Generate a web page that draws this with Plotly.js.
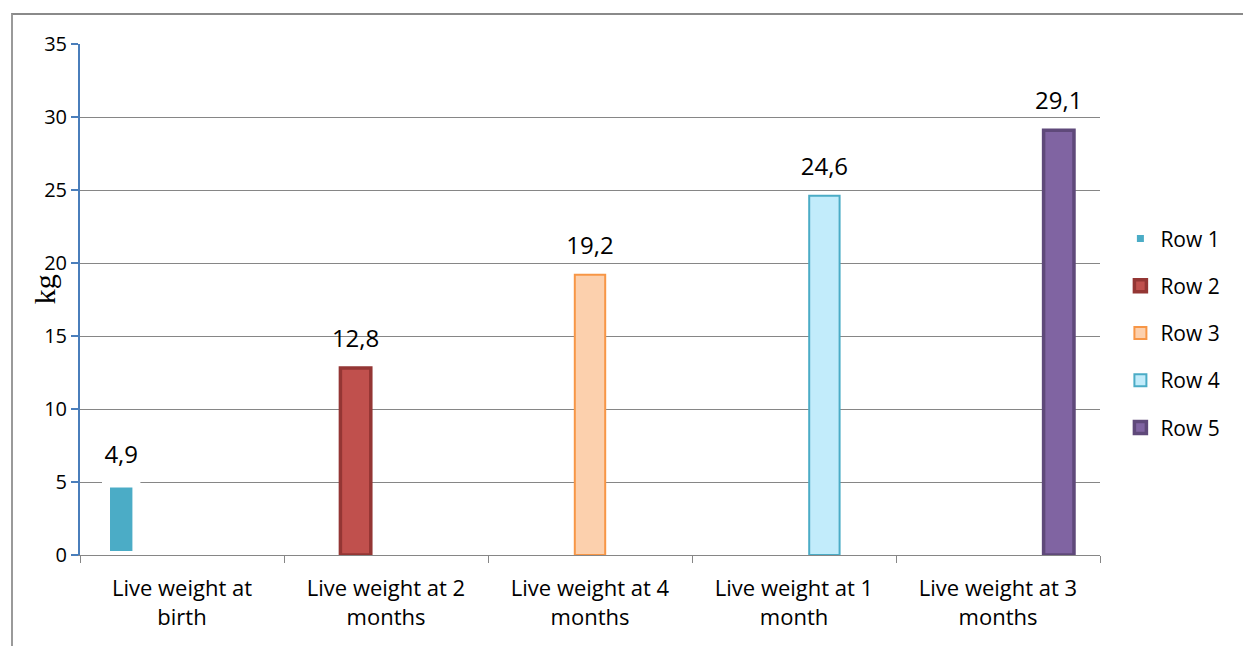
<!DOCTYPE html>
<html>
<head>
<meta charset="utf-8">
<script src="https://cdn.plot.ly/plotly-3.0.1.min.js"></script>
<style>
  html, body { margin: 0; padding: 0; background: #fff; }
  #wrap { position: relative; width: 1243px; height: 646px; overflow: hidden; }
  #frame { position: absolute; left: 11px; top: 13px; width: 1250px; height: 700px;
           border-left: 2px solid #9a9a9a; border-top: 2px solid #8a8a8a; pointer-events: none; z-index: 2; }
  #chart { position: absolute; left: 0; top: 0; width: 1243px; height: 646px; }
</style>
</head>
<body>
<div id="wrap">
  <div id="chart"></div>
  <div id="frame"></div>
</div>
<script>
const categories = [
  "Live weight at<br>birth",
  "Live weight at 2<br>months",
  "Live weight at 4<br>months",
  "Live weight at 1<br>month",
  "Live weight at 3<br>months"
];
const seriesNames = ["Row 1", "Row 2", "Row 3", "Row 4", "Row 5"];
const row1 = [4.9, null, null, null, null];
const row2 = [null, 12.8, null, null, null];
const row3 = [null, null, 19.2, null, null];
const row4 = [null, null, null, 24.6, null];
const row5 = [null, null, null, null, 29.1];
const seriesValues = [row1, row2, row3, row4, row5];
const yTicks = [0, 5, 10, 15, 20, 25, 30, 35];
const yTitle = "kg";

const FONT = "Open Sans, Liberation Sans, sans-serif";
const fills = ["#4bacc6", "#c0504d", "#fcd0ad", "#c2ecfb", "#8064a2"];
const lines = ["#ffffff", "#943634", "#f79646", "#4bacc6", "#5f497a"];
const lineW = [8, 3.5, 2, 2, 3.5];
const GAP = 0.255;

const barTraces = seriesValues.map((vals, i) => ({
  type: "bar",
  name: seriesNames[i],
  legendgroup: "g" + i,
  offsetgroup: "o" + i,
  alignmentgroup: "a",
  x: categories,
  y: vals,
  marker: { color: fills[i], line: { color: lines[i], width: lineW[i] } },
  hoverinfo: "skip"
}));

const labelTraces = seriesValues.map((vals, i) => ({
  type: "scatter",
  mode: "markers+text",
  name: seriesNames[i] + " label",
  showlegend: false,
  offsetgroup: "o" + i,
  alignmentgroup: "a",
  x: categories,
  y: vals,
  marker: { size: 22, opacity: 0 },
  texttemplate: "%{y:.1f}",
  textposition: "top center",
  textfont: { family: FONT, size: 24, color: "#000" },
  cliponaxis: false,
  hoverinfo: "skip"
}));

const layout = {
  width: 1243, height: 646,
  margin: { l: 80, r: 143, t: 44, b: 91 },
  paper_bgcolor: "#ffffff", plot_bgcolor: "#ffffff",
  separators: ",.",
  barmode: "group",
  bargap: GAP,
  bargroupgap: 0,
  scattermode: "group",
  scattergap: GAP,
  showlegend: true,
  legend: {
    x: 1.02, xanchor: "left", y: 0.434, yanchor: "middle",
    font: { family: FONT, size: 21, color: "#000" },
    itemwidth: 30, tracegroupgap: 17, bgcolor: "rgba(0,0,0,0)"
  },
  font: { family: FONT, color: "#000" },
  xaxis: {
    type: "category",
    tickson: "boundaries",
    ticks: "outside", ticklen: 7, tickcolor: "#868686", tickwidth: 1,
    showline: true, linecolor: "#868686", linewidth: 1,
    showgrid: false,
    ticklabelstandoff: 14,
    tickfont: { family: FONT, size: 22, color: "#000" },
    fixedrange: true
  },
  yaxis: {
    range: [0, 35],
    tickvals: yTicks,
    ticktext: yTicks.map(String),
    ticks: "outside", ticklen: 7, tickcolor: "#4a7ebb", tickwidth: 1.5,
    showline: true, linecolor: "#4a7ebb", linewidth: 2,
    showgrid: true, gridcolor: "#868686", gridwidth: 1,
    zeroline: false,
    tickfont: { family: FONT, size: 20, color: "#000" },
    fixedrange: true
  },
  annotations: [{
    text: yTitle, xref: "paper", yref: "paper", x: -0.0353, y: 0.52,
    xanchor: "center", yanchor: "middle", textangle: -90, showarrow: false,
    font: { family: "Liberation Serif, Times New Roman, serif", size: 30, color: "#000" }
  }]
};

Plotly.newPlot("chart", barTraces.concat(labelTraces), layout, { displayModeBar: false, staticPlot: true });
</script>
</body>
</html>
